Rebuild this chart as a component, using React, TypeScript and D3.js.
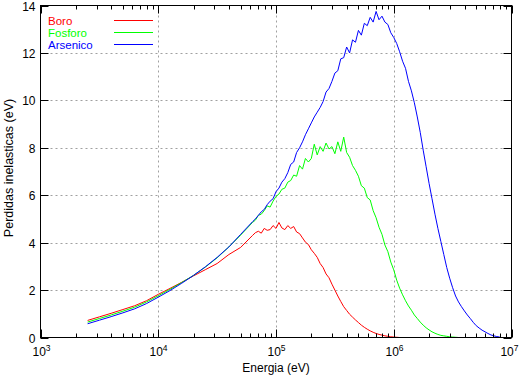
import React from 'react';
import * as d3 from 'd3';

// log10 of the energy (eV) at each sample
const energyExp = [
  3.4, 3.5, 3.6, 3.7, 3.8, 3.9, 4.0, 4.1, 4.2, 4.3, 4.4, 4.5, 4.6, 4.7,
  4.8, 4.825, 4.85, 4.875, 4.9, 4.925, 4.95, 4.975,
  5.0, 5.025, 5.05, 5.075, 5.1, 5.125, 5.15, 5.175, 5.2, 5.225, 5.25, 5.275, 5.3, 5.325, 5.35, 5.375, 5.4, 5.425, 5.45, 5.475,
  5.5, 5.525, 5.55, 5.575, 5.6, 5.625, 5.65, 5.675, 5.7, 5.725, 5.75, 5.775, 5.8, 5.825, 5.85, 5.875, 5.9, 5.925, 5.95, 5.975,
  6.0, 6.025, 6.05, 6.075, 6.1, 6.125, 6.15, 6.175, 6.2, 6.225, 6.25, 6.275, 6.3, 6.325, 6.35, 6.375, 6.4, 6.425, 6.45, 6.475,
  6.5, 6.525, 6.55, 6.575, 6.6, 6.625, 6.65, 6.675, 6.7, 6.725, 6.75, 6.775, 6.8, 6.825, 6.85, 6.875, 6.9,
];

const boro = [
  0.72, 0.87, 1.02, 1.18, 1.34, 1.55, 1.82, 2.07, 2.33, 2.6, 2.86, 3.12, 3.5, 3.8,
  4.3, 4.42, 4.48, 4.4, 4.6, 4.52, 4.55, 4.72,
  4.6, 4.85, 4.62, 4.55, 4.72, 4.6, 4.68, 4.45, 4.38, 4.2, 4.02, 3.92, 3.7, 3.55, 3.38, 3.12, 2.95, 2.68, 2.52, 2.25,
  2.0, 1.75, 1.52, 1.3, 1.14, 0.98, 0.86, 0.74, 0.63, 0.52, 0.43, 0.35, 0.28, 0.22, 0.17, 0.13, 0.1, 0.07, 0.05, 0.03,
  0.02, 0.01, 0, 0, 0, 0, 0, 0, 0, 0, 0, 0, 0, 0, 0, 0, 0, 0, 0, 0,
  0, 0, 0, 0, 0, 0, 0, 0, 0, 0, 0, 0, 0, 0, 0, 0, 0,
];

const fosforo = [
  0.65, 0.8, 0.95, 1.11, 1.28, 1.5, 1.76, 2.03, 2.32, 2.62, 2.97, 3.36, 3.82, 4.32,
  4.85, 4.95, 5.15, 5.2, 5.35, 5.55, 5.5, 5.75,
  5.95, 6.05, 6.25, 6.3, 6.55, 6.62, 6.85, 6.8, 7.25, 7.1, 7.55, 7.4, 7.55, 8.15, 7.7, 8.05, 7.85, 8.2, 7.95, 8.05,
  7.75, 8.25, 7.85, 8.45, 7.8, 7.6, 7.25, 7.05, 6.8, 6.4, 6.3, 5.9, 5.8, 5.35, 5.05, 4.65, 4.35, 3.9, 3.62, 3.18,
  2.85, 2.42, 2.08, 1.8, 1.55, 1.33, 1.15, 0.95, 0.8, 0.65, 0.52, 0.41, 0.32, 0.24, 0.18, 0.13, 0.09, 0.07, 0.05, 0.03,
  0.02, 0.01, 0, 0, 0, 0, 0, 0, 0, 0, 0, 0, 0, 0, 0, 0, 0,
];

const arsenico = [
  0.58, 0.73, 0.88, 1.04, 1.21, 1.43, 1.7, 1.98, 2.29, 2.62, 2.98, 3.38, 3.82, 4.35,
  4.88, 5.0, 5.15, 5.3, 5.4, 5.6, 5.75, 5.85,
  6.15, 6.3, 6.55, 6.7, 6.95, 7.3, 7.4, 7.8, 8.0, 8.25, 8.55, 8.8, 9.05, 9.3, 9.5, 9.7, 9.95, 10.35, 10.5, 10.8,
  11.15, 11.25, 11.75, 11.8, 12.25, 12.0, 12.55, 12.45, 12.95, 12.75, 13.25, 13.15, 13.5, 13.3, 13.75, 13.4, 13.55, 13.3, 13.2, 12.85,
  12.65, 12.4, 12.05, 11.65, 11.35, 10.8, 10.4, 9.9, 9.3, 8.65, 7.9, 7.2, 6.5, 5.85, 5.2, 4.6, 4.05, 3.5, 2.95, 2.5,
  2.1, 1.75, 1.5, 1.3, 1.12, 0.95, 0.8, 0.64, 0.5, 0.4, 0.31, 0.24, 0.17, 0.11, 0.07, 0.04, 0.02,
];

const seriesNames = ['Boro', 'Fosforo', 'Arsenico'];
const seriesValues = [boro, fosforo, arsenico];
const seriesColors = ['#ff0000', '#00ff00', '#0000ff'];
const yTicks = [0, 2, 4, 6, 8, 10, 12, 14];
const xDecades = [3, 4, 5, 6, 7];
const xLabel = 'Energia (eV)';
const yLabel = 'Perdidas inelasticas (eV)';

const FONT = "'Liberation Sans', Arial, Helvetica, sans-serif";

export default function App() {
  const W = 520;
  const H = 376;
  const L = 40.5, R = 511.5, T = 5.5, B = 337.5;
  const x = d3.scaleLog().domain([1e3, 1e7]).range([L, R]);
  const y = d3.scaleLinear().domain([0, 14]).range([B, T]);

  const line = d3
    .line<[number, number]>()
    .x((d) => x(Math.pow(10, d[0])))
    .y((d) => y(d[1]));

  const minor: number[] = [];
  xDecades.slice(0, -1).forEach((d) => {
    for (let k = 2; k <= 9; k++) minor.push(k * Math.pow(10, d));
  });

  return (
    <svg
      width={W}
      height={H}
      style={{ position: 'absolute', left: 0, top: 0, background: '#fff' }}
      fontFamily={FONT}
      fontSize={12}
    >
      <rect x={0} y={0} width={W} height={H} fill="#fff" />
      {/* grid */}
      {yTicks.slice(1, -1).map((t) => (
        <line key={'gy' + t} x1={L} x2={R} y1={Math.round(y(t)) + 0.5} y2={Math.round(y(t)) + 0.5}
          stroke="#a0a0a0" strokeDasharray="2,3" />
      ))}
      {xDecades.slice(1, -1).map((d) => (
        <line key={'gx' + d} x1={Math.round(x(Math.pow(10, d))) + 0.5} x2={Math.round(x(Math.pow(10, d))) + 0.5}
          y1={T} y2={B} stroke="#a0a0a0" strokeDasharray="2,3" />
      ))}
      {/* series */}
      {seriesValues.map((vals, i) => {
        const n = Math.min(vals.length, energyExp.length);
        const pts: [number, number][] = [];
        for (let j = 0; j < n; j++) pts.push([energyExp[j], vals[j]]);
        return (
          <path key={seriesNames[i]} d={line(pts) || ''} fill="none" stroke={seriesColors[i]}
            strokeWidth={1} strokeLinejoin="round" />
        );
      })}
      {/* frame */}
      <rect x={L} y={T} width={R - L} height={B - T} fill="none" stroke="#000" strokeWidth={1} />
      {/* y ticks */}
      {yTicks.map((t) => {
        const yy = Math.round(y(t)) + 0.5;
        return (
          <g key={'yt' + t}>
            <line x1={L} x2={L + 8} y1={yy} y2={yy} stroke="#000" />
            <line x1={R} x2={R - 8} y1={yy} y2={yy} stroke="#000" />
            <text x={L - 5} y={yy + 4} textAnchor="end">{t}</text>
          </g>
        );
      })}
      {/* x ticks */}
      {xDecades.map((d, i) => {
        const xx = Math.round(x(Math.pow(10, d))) + 0.5;
        const last = i === xDecades.length - 1;
        return (
          <g key={'xt' + d}>
            <line x1={xx} x2={xx} y1={B} y2={B - 8} stroke="#000" />
            <line x1={xx} x2={xx} y1={T} y2={T + 8} stroke="#000" />
            <text x={last ? 518.5 : xx} y={355.5} textAnchor={last ? 'end' : 'middle'}>
              <tspan>10</tspan>
              <tspan dy={-5} fontSize={8.5}>{d}</tspan>
            </text>
          </g>
        );
      })}
      {minor.map((v) => {
        const xx = Math.round(x(v)) + 0.5;
        return (
          <g key={'mt' + v}>
            <line x1={xx} x2={xx} y1={B} y2={B - 4} stroke="#000" />
            <line x1={xx} x2={xx} y1={T} y2={T + 4} stroke="#000" />
          </g>
        );
      })}
      {/* axis labels */}
      <text x={(L + R) / 2} y={372} textAnchor="middle">{xLabel}</text>
      <text transform={`translate(13,168) rotate(-90)`} textAnchor="middle" fontSize={12.5}>{yLabel}</text>
      {/* legend */}
      {seriesNames.map((name, i) => (
        <g key={'lg' + name}>
          <text x={48} y={24.5 + i * 12.2} fill={seriesColors[i]} fontSize={11.5}>{name}</text>
          <line x1={114} x2={153} y1={20.5 + Math.round(i * 12.2)} y2={20.5 + Math.round(i * 12.2)} stroke={seriesColors[i]} />
        </g>
      ))}
    </svg>
  );
}
